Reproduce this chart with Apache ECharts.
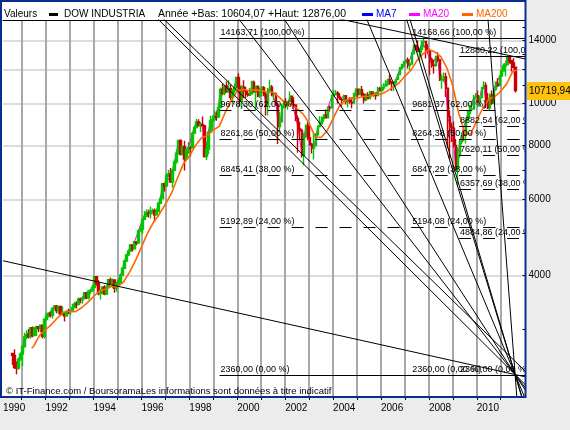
<!DOCTYPE html>
<html>
<head>
<meta charset="utf-8">
<title>DOW INDUSTRIA</title>
<script src="https://cdn.jsdelivr.net/npm/echarts@6/dist/echarts.min.js"></script>
<style>
  html, body { margin: 0; padding: 0; background: #ececec; }
  #main { width: 570px; height: 430px; }
</style>
</head>
<body>
<div id="main"></div>
<script>
// ---- données (barres mensuelles, premier mois = startMonth) ----
const startMonth = '1990-08';
const firstOpen = 2640;
const closes = [
  2614, 2453, 2442, 2560, 2634,
  2737, 2882, 2914, 2888, 3028, 2907, 3025, 3044, 3017, 3069, 2895, 3169,
  3224, 3268, 3236, 3359, 3397, 3319, 3394, 3257, 3272, 3226, 3305, 3301,
  3310, 3371, 3435, 3428, 3527, 3516, 3540, 3651, 3555, 3681, 3684, 3754,
  3978, 3832, 3636, 3682, 3758, 3625, 3765, 3913, 3843, 3908, 3739, 3834,
  3844, 4011, 4158, 4321, 4465, 4556, 4709, 4611, 4789, 4756, 5075, 5117,
  5395, 5486, 5587, 5569, 5643, 5655, 5529, 5616, 5882, 6029, 6522, 6448,
  6813, 6878, 6584, 7009, 7331, 7673, 8223, 7622, 7945, 7442, 7823, 7908,
  7907, 8546, 8800, 9063, 8900, 8952, 8883, 7539, 7843, 8592, 9117, 9181,
  9359, 9307, 9786, 10789, 10560, 10971, 10655, 10829, 10337, 10729, 10878, 11497,
  10941, 10128, 10922, 10734, 10522, 10448, 10522, 11215, 10651, 10971, 10415, 10787,
  10887, 10495, 9879, 10735, 10912, 10502, 10523, 9950, 8848, 9075, 9852, 10021,
  9920, 10106, 10404, 9946, 9925, 9243, 8737, 8664, 7592, 8397, 8896, 8342,
  8054, 7891, 7992, 8480, 8850, 8985, 9234, 9416, 9275, 9801, 9782, 10454,
  10488, 10584, 10358, 10226, 10188, 10435, 10140, 10174, 10080, 10027, 10428, 10783,
  10490, 10766, 10504, 10193, 10467, 10275, 10641, 10482, 10569, 10440, 10806, 10718,
  10865, 10993, 11109, 11367, 11168, 11150, 11186, 11381, 11679, 12081, 12222, 12463,
  12622, 12269, 12354, 13063, 13628, 13409, 13212, 13358, 13896, 13930, 13372, 13265,
  12650, 12266, 12263, 12820, 12638, 11350, 11378, 11544, 10851, 9325, 8829, 8776,
  8001, 7063, 7609, 8168, 8500, 8447, 9172, 9496, 9712, 9713, 10345, 10428,
  10067, 10325, 10857, 11009, 10137, 9774, 10466, 10015, 10788, 11118, 11006, 11578,
  11892, 12226, 12320, 12811, 12570, 12414, 12143, 10719.94
];
const highs = [
  2650, 2700, 2530, 2580, 2650,
  2750, 2950, 2990, 3010, 3040, 3050, 3030, 3060, 3050, 3080, 3070, 3180,
  3280, 3290, 3300, 3370, 3420, 3420, 3400, 3400, 3390, 3290, 3320, 3350,
  3330, 3440, 3480, 3480, 3560, 3560, 3580, 3660, 3660, 3710, 3720, 3800,
  3990, 3990, 3900, 3700, 3780, 3800, 3780, 3920, 3960, 3940, 3920, 3870,
  3930, 4020, 4170, 4330, 4470, 4590, 4730, 4720, 4800, 4800, 5110, 5220,
  5400, 5640, 5690, 5690, 5780, 5720, 5720, 5720, 5900, 6100, 6550, 6560,
  6880, 7020, 7100, 7020, 7390, 7800, 8250, 8260, 8000, 8200, 7880, 8150,
  7980, 8560, 8900, 9210, 9200, 9070, 9340, 8920, 8170, 8600, 9370, 9380,
  9650, 9560, 10010, 10880, 11110, 11000, 11250, 11330, 11080, 10740, 11090, 11500,
  11750, 11100, 11030, 11330, 10940, 10700, 10870, 11300, 11310, 10980, 10980, 10900,
  10990, 10990, 10650, 10870, 11350, 11050, 10640, 10610, 10030, 9580, 9990, 10190,
  10290, 10150, 10670, 10430, 10350, 9950, 9380, 9080, 8750, 8550, 8950, 9050,
  8870, 8110, 8550, 8550, 8900, 9350, 9340, 9430, 9690, 9850, 9900, 10460,
  10750, 10750, 10680, 10570, 10320, 10480, 10450, 10200, 10340, 10240, 10600, 10860,
  10860, 10850, 10980, 10600, 10550, 10620, 10710, 10700, 10700, 10580, 10940, 10920,
  11060, 11140, 11320, 11420, 11670, 11280, 11260, 11420, 11720, 12160, 12360, 12550,
  12650, 12790, 12480, 13160, 13700, 13690, 14020, 13470, 14020, 14200, 13950, 13730,
  13280, 12790, 12620, 12900, 13140, 12660, 11700, 11810, 11790, 10880, 9650, 9030,
  9090, 8280, 7930, 8250, 8580, 8880, 9200, 9630, 9920, 10120, 10470, 10580,
  10730, 10400, 10930, 11260, 11200, 10600, 10550, 10720, 10860, 11250, 11450, 11650,
  12000, 12390, 12400, 12870, 12876, 12590, 12750, 12180
];
const lows = [
  2483, 2430, 2365, 2420, 2540,
  2470, 2730, 2850, 2860, 2860, 2880, 2900, 2900, 2960, 2960, 2860, 2860,
  3150, 3200, 3200, 3180, 3340, 3270, 3260, 3220, 3240, 3130, 3210, 3260,
  3240, 3290, 3360, 3360, 3420, 3450, 3440, 3530, 3530, 3520, 3620, 3680,
  3740, 3800, 3600, 3520, 3630, 3600, 3620, 3740, 3820, 3750, 3650, 3670,
  3800, 3840, 3990, 4150, 4300, 4440, 4540, 4550, 4600, 4700, 4740, 5050,
  5000, 5380, 5470, 5450, 5420, 5580, 5320, 5520, 5600, 5860, 6020, 6260,
  6440, 6750, 6560, 6390, 6970, 7260, 7650, 7600, 7620, 7000, 7400, 7650,
  7550, 7900, 8500, 8780, 8850, 8600, 8860, 7500, 7400, 7630, 8590, 8700,
  9120, 9130, 9300, 9770, 10460, 10460, 10640, 10640, 10210, 9960, 10580, 10850,
  10740, 9860, 9730, 10300, 10300, 10370, 10410, 10480, 10600, 9650, 10350, 10300,
  10400, 10400, 9390, 9390, 10570, 10400, 10170, 9900, 8060, 8660, 9070, 9740,
  9770, 9680, 10100, 9900, 9780, 9100, 7700, 8270, 7500, 7200, 8330, 8230,
  8000, 7670, 7420, 7990, 8420, 8850, 8960, 9080, 9250, 9250, 9590, 9770,
  10400, 10450, 10000, 10200, 9850, 10150, 9960, 9800, 9990, 9750, 10020, 10400,
  10360, 10450, 10400, 10010, 10130, 10250, 10250, 10390, 10350, 10210, 10400, 10690,
  10650, 10730, 10960, 10970, 11040, 10700, 10700, 10940, 11350, 11640, 11970, 12130,
  12380, 12050, 11940, 12350, 12990, 13270, 13150, 12520, 13080, 13500, 12720, 13120,
  11630, 12100, 11730, 12160, 12480, 11280, 10830, 11220, 10360, 7880, 7450, 8150,
  7900, 7000, 6470, 7500, 8050, 8200, 8090, 9100, 9250, 9600, 9680, 10290,
  10040, 9840, 10300, 10850, 9770, 9700, 9620, 9940, 10000, 10710, 10930, 11000,
  11570, 11880, 11550, 12280, 12380, 11860, 12100, 10604.07
];
// moyenne mobile 200 jours, lue fin de trimestre
const ma200 = [
  ['1991-05', 2715], ['1991-06', 2745], ['1991-09', 2908], ['1991-12', 2996],
  ['1992-03', 3085], ['1992-06', 3195], ['1992-09', 3290], ['1992-12', 3307],
  ['1993-03', 3299], ['1993-06', 3369], ['1993-09', 3463], ['1993-12', 3577],
  ['1994-03', 3683], ['1994-06', 3719], ['1994-09', 3779], ['1994-12', 3770],
  ['1995-03', 3864], ['1995-06', 4068], ['1995-09', 4330], ['1995-12', 4656],
  ['1996-03', 5008], ['1996-06', 5307], ['1996-09', 5548], ['1996-12', 5848],
  ['1997-03', 6196], ['1997-06', 6717], ['1997-09', 7253], ['1997-12', 7556],
  ['1998-03', 7989], ['1998-06', 8329], ['1998-09', 8434], ['1998-12', 8687],
  ['1999-03', 8856], ['1999-06', 9551], ['1999-09', 10177], ['1999-12', 10703],
  ['2000-03', 10789], ['2000-06', 10714], ['2000-09', 10758], ['2000-12', 10719],
  ['2001-03', 10627], ['2001-06', 10623], ['2001-09', 10352], ['2001-12', 10030],
  ['2002-03', 9920], ['2002-06', 9734], ['2002-09', 9456], ['2002-12', 9015],
  ['2003-03', 8381], ['2003-06', 8348], ['2003-09', 8652], ['2003-12', 9227],
  ['2004-03', 9838], ['2004-06', 10159], ['2004-09', 10313], ['2004-12', 10284],
  ['2005-03', 10383], ['2005-06', 10401], ['2005-09', 10517], ['2005-12', 10510],
  ['2006-03', 10690], ['2006-06', 10919], ['2006-09', 11162], ['2006-12', 11581],
  ['2007-03', 11941], ['2007-06', 12579], ['2007-09', 13027], ['2007-12', 13349],
  ['2008-03', 13162], ['2008-06', 12845], ['2008-09', 12103], ['2008-12', 10977],
  ['2009-03', 9473], ['2009-06', 8557], ['2009-09', 8494], ['2009-12', 9159],
  ['2010-03', 9756], ['2010-06', 10237], ['2010-09', 10387], ['2010-12', 10675],
  ['2011-03', 11118], ['2011-06', 11872], ['2011-08', 11968]
];

// retracements de Fibonacci (3 tracés)
const fibStart = [1999.26, 2007.26, 2009.26];
const fibPct = [100, 62, 50, 38, 24, 0];
const fibA = [14163.71, 9678.30, 8261.86, 6845.41, 5192.89, 2360.00];
const fibB = [14168.66, 9681.37, 8264.38, 6847.29, 5194.08, 2360.00];
const fibC = [12880.22, 8882.54, 7620.11, 6357.69, 4884.86, 2360.00];

// droites tracées : [année1, valeur1, année2, valeur2]
const trendLines = [
  [1996.73, 15614, 2011.6, 2360],
  [1996.97, 15614, 2008.47, 3737],
  [2000.26, 15200, 2011.6, 2360],
  [2001.99, 15614, 2011.6, 2360],
  [2005.42, 15614, 2011.6, 2360],
  [2007.08, 15614, 2011.6, 2360],
  [2007.22, 15614, 2011.6, 2360],
  [2010.47, 15614, 2011.6, 2360],
  [1990.28, 4321, 2011.6, 2360],
  [2004.48, 15614, 2012.03, 12685]
];

const yearLow = 10604.07;
const yearHigh = 12876.00;

const xLabels = [1990, 1992, 1994, 1996, 1998, 2000, 2002, 2004, 2006, 2008, 2010];
const xTicks = [1991, 1992, 1993, 1994, 1995, 1996, 1997, 1998, 1999, 2000, 2001,
  2002, 2003, 2004, 2005, 2006, 2007, 2008, 2009, 2010, 2011];
const yLabels = [4000, 6000, 8000, 10000, 14000];
const yGrid = [4000, 6000, 8000, 10000, 12000, 14000];
const yTicks = [3000, 4000, 5000, 6000, 7000, 8000, 9000, 10000, 11000, 12000, 13000, 14000, 15000];

// ---- échelles ----
const X_MIN = 1990.2208, X_MAX = 2012.0333;
const Y_MIN = 2094, Y_MAX = 15614;
const L = Math.log10;
const FONT = '"Liberation Sans", Arial, sans-serif';
const C = { dow: '#000000', ma7: '#0000ff', ma20: '#ff00ff', ma200: '#ff6600', up: '#00c800', down: '#cc0000', border: '#0b2c8f' };

const fr = v => v.toFixed(2).replace('.', ',');

const sy = +startMonth.slice(0, 4), sm = +startMonth.slice(5, 7);
const barT = i => sy + (sm - 1 + i + 0.5) / 12;
const monthEnd = s => +s.slice(0, 4) + (+s.slice(5, 7)) / 12;

const bars = closes.map((c, i) => [barT(i), L(i === 0 ? firstOpen : closes[i - 1]), L(c), L(lows[i]), L(highs[i])]);
const ma20Line = closes.map((c, i) => [barT(i), L(c)]);
const ma200Line = ma200.map(d => [monthEnd(d[0]), L(d[1])]);

const fibData = [];
[fibA, fibB, fibC].forEach((set, s) => {
  set.forEach((v, k) => fibData.push([fibStart[s], L(v), v, fibPct[k]]));
});

// droite prolongée jusqu'aux bords
function ray(l) {
  const s = (L(l[3]) - L(l[1])) / (l[2] - l[0]);
  return [[X_MIN, L(l[1]) + s * (X_MIN - l[0])], [X_MAX, L(l[1]) + s * (X_MAX - l[0])]];
}

const chart = echarts.init(document.getElementById('main'));

const option = {
  animation: false,
  backgroundColor: '#ececec',
  grid: { left: 2, top: 20, right: 44.5, bottom: 33, containLabel: false },
  xAxis: [{
    type: 'value', min: X_MIN, max: X_MAX,
    axisLine: { show: false },
    axisTick: { show: true, customValues: xTicks, length: 3, lineStyle: { color: '#000' } },
    axisLabel: {
      customValues: xLabels.map(y => Math.max(y, X_MIN)),
      formatter: v => String(Math.floor(v + 1e-6)),
      align: 'left', margin: 6, color: '#000', fontSize: 10, fontFamily: FONT
    },
    splitLine: { show: true, lineStyle: { color: '#a8a8a8', width: 2 } }
  }, {
    type: 'value', position: 'top', min: X_MIN, max: X_MAX,
    axisLine: { show: true, onZero: false, lineStyle: { color: '#000', width: 1 } },
    axisTick: { show: false }, axisLabel: { show: false }, splitLine: { show: false }
  }],
  yAxis: [{
    type: 'value', position: 'right', min: L(Y_MIN), max: L(Y_MAX),
    axisLine: { show: false },
    axisTick: { show: false, customValues: yGrid.map(L) },
    axisLabel: {
      customValues: yLabels.map(L),
      formatter: v => String(Math.round(Math.pow(10, v))),
      margin: 3, color: '#000', fontSize: 10, fontFamily: FONT
    },
    splitLine: { show: true, lineStyle: { color: '#dcdcdc', width: 2 } }
  }, {
    type: 'value', position: 'right', min: L(Y_MIN), max: L(Y_MAX),
    axisLine: { show: false },
    axisTick: { show: true, inside: true, length: 3, customValues: yTicks.map(L), lineStyle: { color: '#000' } },
    axisLabel: { show: false }, splitLine: { show: false }
  }],
  series: [
    {
      name: 'MA20', type: 'line', data: ma20Line, symbol: 'none', z: 1,
      lineStyle: { color: C.ma20, width: 1 }
    },
    {
      name: 'DOW INDUSTRIA', type: 'candlestick', data: bars, z: 2,
      encode: { x: 0, y: [1, 2, 3, 4] },
      barWidth: 2,
      itemStyle: { color: C.up, color0: C.down, borderColor: C.up, borderColor0: C.down, borderWidth: 1.4 }
    },
    {
      name: 'MA200', type: 'line', data: ma200Line, symbol: 'none', z: 3,
      lineStyle: { color: C.ma200, width: 1.6 }
    },
    {
      name: 'fibo', type: 'custom', data: fibData, z: 4, clip: true, silent: true,
      encode: { x: 0, y: 1 },
      renderItem: function (params, api) {
        const p = api.coord([api.value(0), api.value(1)]);
        const right = params.coordSys.x + params.coordSys.width;
        const pct = api.value(3);
        const y = Math.round(p[1]) + 0.5;
        return {
          type: 'group',
          children: [{
            type: 'line',
            shape: { x1: p[0], y1: y, x2: right, y2: y },
            style: { stroke: '#000', lineWidth: 1, lineDash: (pct === 100 || pct === 0) ? null : [12, 12] }
          }, {
            type: 'text', x: p[0] + 1, y: y - 1,
            style: {
              text: fr(api.value(2)) + ' (' + fr(pct) + ' %)',
              fill: '#000', font: '9px ' + FONT, align: 'left', verticalAlign: 'bottom'
            }
          }]
        };
      }
    }
  ].concat(trendLines.map((l, i) => ({
    name: 'droite' + i, type: 'line', data: ray(l), symbol: 'none', z: 5, clip: true, silent: true,
    lineStyle: { color: '#000', width: 1 }
  })))
};

chart.setOption(option);

// cartouche de la dernière valeur, placé avec l'échelle du graphique
const last = closes[closes.length - 1];
const yLast = chart.convertToPixel({ yAxisIndex: 0 }, L(last));
const txt = (text, x, y, color, size) => ({
  type: 'text', z: 100, style: { text: text, x: x, y: y, fill: color || '#000', font: (size || 10) + 'px ' + FONT, verticalAlign: 'middle' }
});
const box = (x, y, w, h, color) => ({ type: 'rect', z: 100, shape: { x: x, y: y, width: w, height: h }, style: { fill: color } });

chart.setOption({
  graphic: [
    { type: 'rect', z: -100, shape: { x: 1, y: 1, width: 524.5, height: 396 }, style: { fill: '#fff' } },
    { type: 'rect', z: 100, shape: { x: 1, y: 1, width: 524.5, height: 396 }, style: { fill: null, stroke: C.border, lineWidth: 2 } },
    txt('Valeurs', 4, 14),
    box(49, 13, 9, 3, C.dow),
    txt('DOW INDUSTRIA', 64, 14),
    txt('Année +Bas: ' + fr(yearLow) + ' +Haut: ' + fr(yearHigh), 158, 14, '#000', 10.5),
    box(362, 13, 11, 3, C.ma7),
    txt('MA7', 376, 14, C.ma7),
    box(409, 13, 11, 3, C.ma20),
    txt('MA20', 423, 14, C.ma20),
    box(462, 13, 11, 3, C.ma200),
    txt('MA200', 476, 14, C.ma200),
    txt('© IT-Finance.com / BoursoramaLes informations sont données à titre indicatif', 6, 391, '#000', 9.5),
    box(527, Math.round(yLast) - 9, 43, 18, '#ffc20e'),
    txt(fr(last), 529, Math.round(yLast))
  ]
});

window.addEventListener('resize', function () { chart.resize(); });
</script>
</body>
</html>
